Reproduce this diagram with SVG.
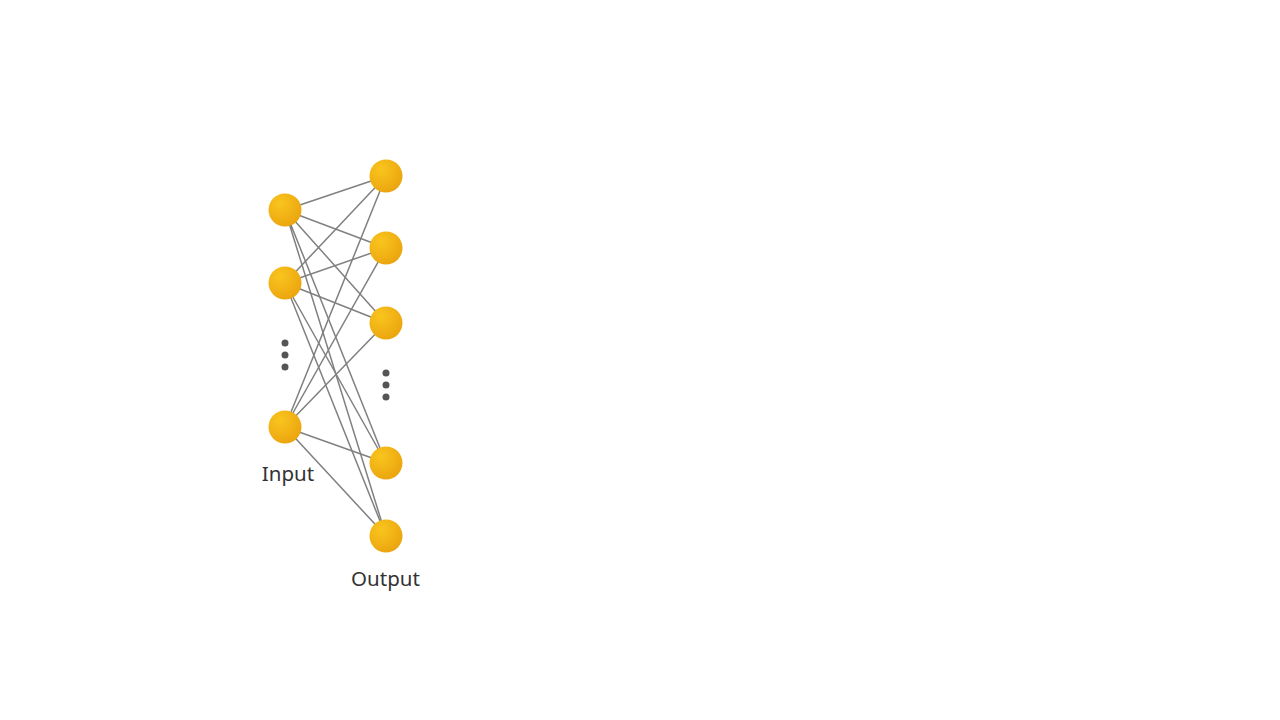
<svg xmlns="http://www.w3.org/2000/svg" width="1280" height="720" viewBox="0 0 1280 720">
<defs>
<radialGradient id="g" cx="0.35" cy="0.3" r="0.75">
<stop offset="0" stop-color="#f9c51e"/>
<stop offset="1" stop-color="#eba40e"/>
</radialGradient>
<style>
.n{fill:url(#g)}
.e{stroke:#808080;stroke-width:1.5;fill:none}
.d{fill:#555}
.t{font-family:"Noto Sans","Open Sans",sans-serif;font-size:20.5px;fill:#333}
</style>
</defs>
<rect width="1280" height="720" fill="#fff"/>
<g id="connectors">
<path class="e" d="M285,210L386,176M285,210L386,248M285,210L386,323M285,210L386,463M285,210L386,536"/>
<path class="e" d="M285,283L386,176M285,283L386,248M285,283L386,323M285,283L386,463M285,283L386,536"/>
<path class="e" d="M285,427L386,176M285,427L386,248M285,427L386,323M285,427L386,463M285,427L386,536"/>
</g>
<g id="in1"><circle class="n" cx="285" cy="210" r="16.5"/></g>
<g id="in2"><circle class="n" cx="285" cy="283" r="16.5"/></g>
<g id="in3"><circle class="n" cx="285" cy="427" r="16.5"/></g>
<g id="out1"><circle class="n" cx="386" cy="176" r="16.5"/></g>
<g id="out2"><circle class="n" cx="386" cy="248" r="16.5"/></g>
<g id="out3"><circle class="n" cx="386" cy="323" r="16.5"/></g>
<g id="out4"><circle class="n" cx="386" cy="463" r="16.5"/></g>
<g id="out5"><circle class="n" cx="386" cy="536" r="16.5"/></g>
<g id="in-dots"><circle class="d" cx="285" cy="343" r="3.5"/><circle class="d" cx="285" cy="355" r="3.5"/><circle class="d" cx="285" cy="367" r="3.5"/></g>
<g id="out-dots"><circle class="d" cx="386" cy="373" r="3.5"/><circle class="d" cx="386" cy="385" r="3.5"/><circle class="d" cx="386" cy="397" r="3.5"/></g>
<g id="labels">
<text class="t" x="288" y="481" text-anchor="middle">Input</text>
<text class="t" x="385.5" y="586" text-anchor="middle">Output</text>
</g>
</svg>
